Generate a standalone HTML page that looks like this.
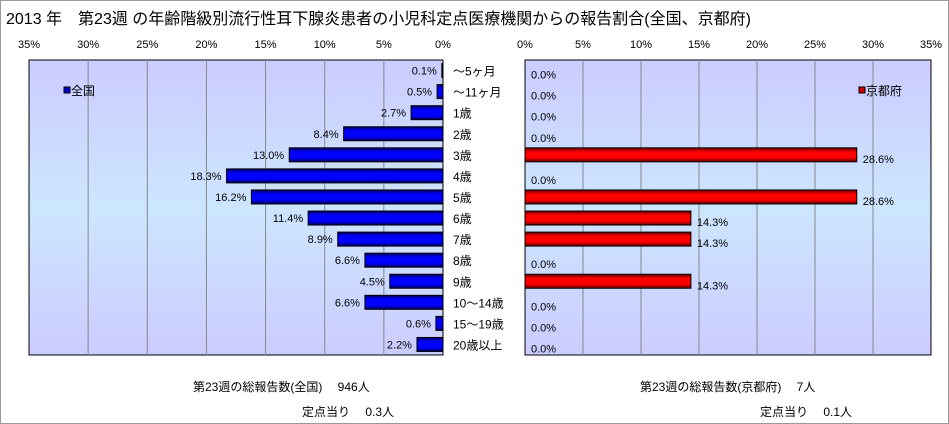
<!DOCTYPE html>
<html><head><meta charset="utf-8"><style>
body{margin:0;width:949px;height:424px;background:#fff;font-family:"Liberation Sans","Noto Sans CJK JP",sans-serif;position:relative;overflow:hidden}
#frame{position:absolute;left:0;top:0;width:947px;height:422px;border:1px solid #999}
.t{position:absolute;font-size:12px;color:#000;white-space:nowrap}
</style></head><body>
<div id="frame"></div>
<div class="t" style="left:6px;top:5px;font-size:16px">2013 年　第23週 の年齢階級別流行性耳下腺炎患者の小児科定点医療機関からの報告割合(全国、京都府)</div>
<svg id="c" width="949" height="424" style="position:absolute;left:0;top:0">
<defs>
<linearGradient id="bg" x1="0" y1="0" x2="0" y2="1"><stop offset="0" stop-color="#ccccff"/><stop offset="0.5" stop-color="#cce6ff"/><stop offset="1" stop-color="#ccccff"/></linearGradient>
<linearGradient id="bb" x1="0" y1="0" x2="0" y2="1"><stop offset="0" stop-color="#000060"/><stop offset="0.3" stop-color="#0000ff"/><stop offset="0.7" stop-color="#0000ff"/><stop offset="1" stop-color="#000060"/></linearGradient>
<linearGradient id="rb" x1="0" y1="0" x2="0" y2="1"><stop offset="0" stop-color="#600000"/><stop offset="0.3" stop-color="#ff0000"/><stop offset="0.7" stop-color="#ff0000"/><stop offset="1" stop-color="#600000"/></linearGradient>
</defs>
</svg>
<div class="t" style="left:193px;top:378px">第23週の総報告数(全国)　 946人</div>
<div class="t" style="left:302px;top:403px">定点当り　 0.3人</div>
<div class="t" style="left:640px;top:378px">第23週の総報告数(京都府)　 7人</div>
<div class="t" style="left:760px;top:403px">定点当り　 0.1人</div>
<script>
const categories=["～5ヶ月","～11ヶ月","1歳","2歳","3歳","4歳","5歳","6歳","7歳","8歳","9歳","10～14歳","15～19歳","20歳以上"];
const nationalValues=[0.1,0.5,2.7,8.4,13.0,18.3,16.2,11.4,8.9,6.6,4.5,6.6,0.6,2.2];
const kyotoValues=[0,0,0,0,28.6,0,28.6,14.3,14.3,0,14.3,0,0,0];
const tickValues=[0,5,10,15,20,25,30,35];
const NS='http://www.w3.org/2000/svg';
const svg=document.getElementById('c');
const top0=60,bot0=355,rowH=(bot0-top0)/categories.length;
const L={x0:443,xmax:29},R={x0:525,xmax:931};
const xL=v=>L.x0-(L.x0-L.xmax)*v/35;
const xR=v=>R.x0+(R.xmax-R.x0)*v/35;
const yC=i=>top0+rowH*(i+0.5);
function mk(tag,attrs){const e=document.createElementNS(NS,tag);for(const k in attrs)e.setAttribute(k,attrs[k]);svg.appendChild(e);return e;}
function txt(x,y,s,anchor,size){const e=mk('text',{x:x,y:y,'text-anchor':anchor,'font-size':size||11,'font-family':'"Liberation Sans","Noto Sans CJK JP",sans-serif'});e.textContent=s;return e;}
// backgrounds
let e=mk('rect',{x:L.xmax,y:top0,width:L.x0-L.xmax,height:bot0-top0,fill:'url(#bg)',stroke:'#000'});


e=mk('rect',{x:R.x0,y:top0,width:R.xmax-R.x0,height:bot0-top0,fill:'url(#bg)',stroke:'#000'});


tickValues.forEach(v=>{
 if(v>0&&v<35){
  e=mk('line',{x1:xL(v),x2:xL(v),y1:top0,y2:bot0,stroke:'#888'});
  
  
  e=mk('line',{x1:xR(v),x2:xR(v),y1:top0,y2:bot0,stroke:'#888'});
  
  
 }
 e=txt(xL(v),48,v+'%','middle',11);
 
 
 e=txt(xR(v),48,v+'%','middle',11);
 
 
});
categories.forEach((c,i)=>{
 const y=yC(i),h=14;
 const nv=nationalValues[i];
 e=mk('rect',{x:xL(nv),y:y-h/2,width:L.x0-xL(nv),height:h,fill:'url(#bb)',stroke:'#000','stroke-width':1});
 
 
 e=txt(xL(nv)-5,y+4,nv.toFixed(1)+'%','end',11);
 
 
 e=txt(453,y+5,c,'start',12);
 
 
 const kv=kyotoValues[i];
 if(kv>0){
  e=mk('rect',{x:R.x0,y:y-h/2,width:xR(kv)-R.x0,height:h,fill:'url(#rb)',stroke:'#000','stroke-width':1});
  
  
 }
 e=txt(xR(kv)+6,y+8,kv.toFixed(1)+'%','start',11);
 
 
});
e=mk('rect',{x:64,y:87,width:6,height:6,fill:'#0000cc',stroke:'#000'});


e=txt(71,95,'全国','start',12);


e=mk('rect',{x:859,y:87,width:6,height:6,fill:'#cc0000',stroke:'#000'});


e=txt(866,95,'京都府','start',12);


</script>
</body></html>
